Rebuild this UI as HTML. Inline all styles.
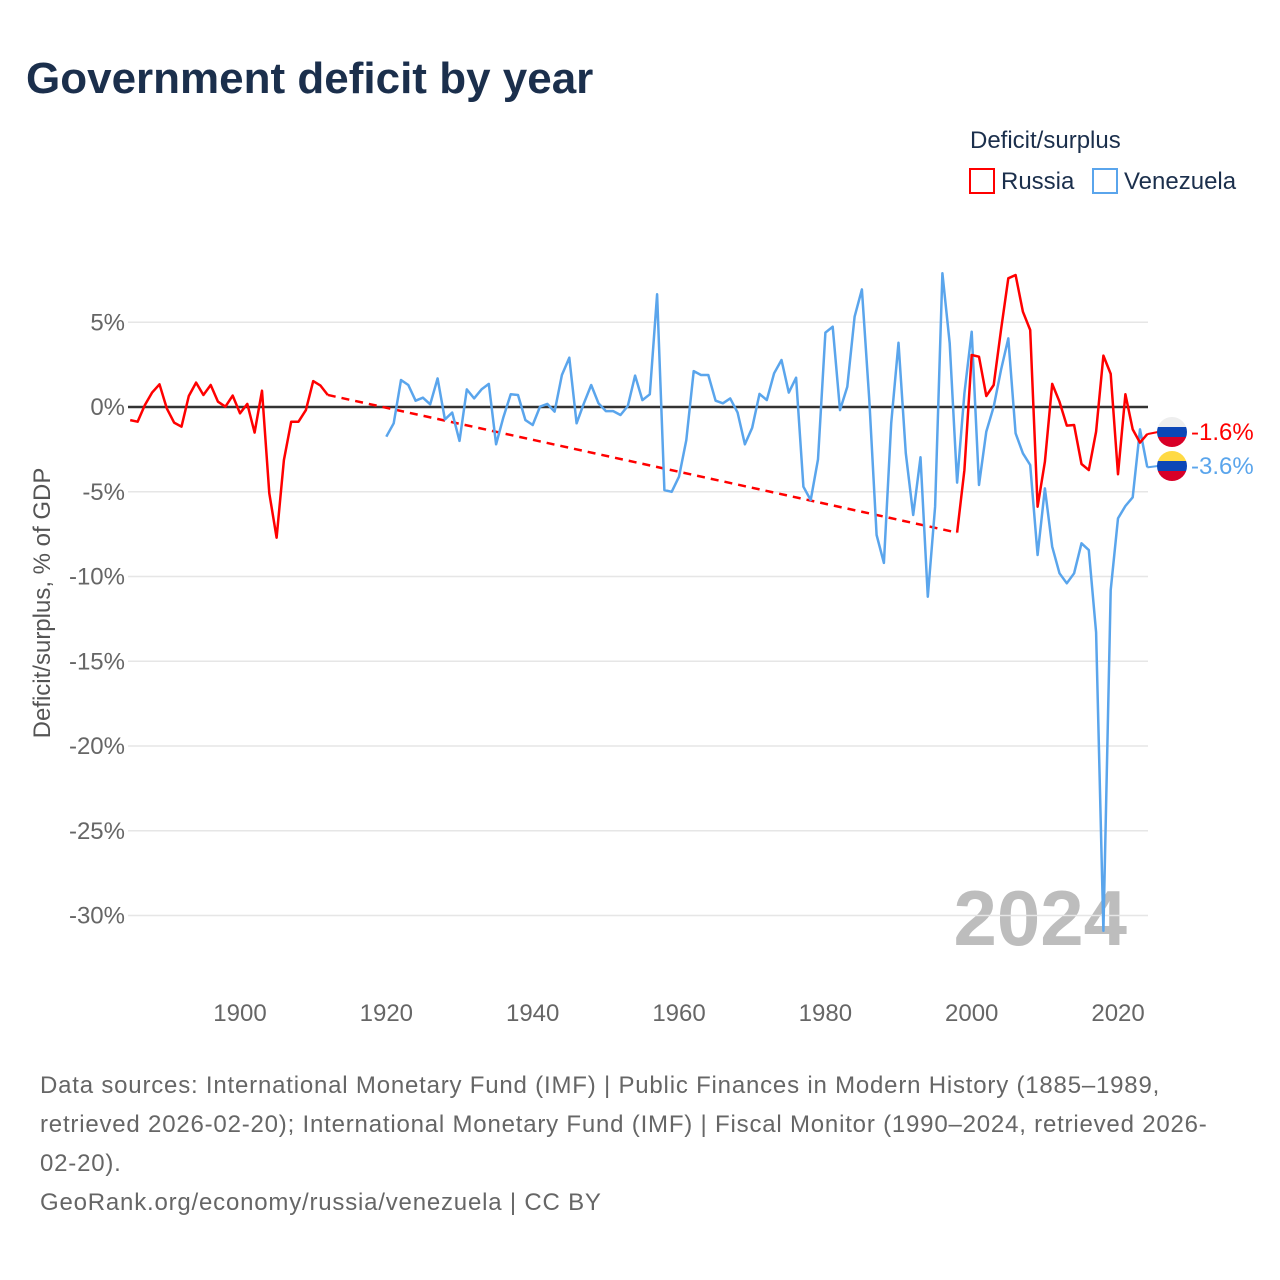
<!DOCTYPE html>
<html><head><meta charset="utf-8">
<style>
body{margin:0;width:1280px;height:1280px;background:#fff;font-family:"Liberation Sans",sans-serif;overflow:hidden}
svg{position:absolute;left:0;top:0}
</style></head>
<body>
<svg id="c" width="1280" height="1280">
<text x="26" y="93" font-size="44" font-weight="bold" fill="#1b2f4c">Government deficit by year</text>
<text x="970" y="148" font-size="24" fill="#1b2f4c">Deficit/surplus</text>
<g><rect x="970" y="169" width="24" height="24" fill="none" stroke="#ff0000" stroke-width="2"/><text x="1001" y="189" font-size="24" fill="#1b2f4c">Russia</text></g>
<g><rect x="1093" y="169" width="24" height="24" fill="none" stroke="#5aa5ec" stroke-width="2"/><text x="1124" y="189" font-size="24" fill="#1b2f4c">Venezuela</text></g>
<text transform="translate(50,603) rotate(-90)" text-anchor="middle" font-size="24" fill="#555">Deficit/surplus, % of GDP</text>
<text x="1127" y="945" text-anchor="end" font-size="78" font-weight="bold" fill="#bdbdbd">2024</text>
<g id="grid"></g><g id="lines"></g><g id="labels"></g>
<g font-size="24" fill="#666" letter-spacing="0.8">
<text x="40" y="1093">Data sources: International Monetary Fund (IMF) | Public Finances in Modern History (1885–1989,</text>
<text x="40" y="1132">retrieved 2026-02-20); International Monetary Fund (IMF) | Fiscal Monitor (1990–2024, retrieved 2026-</text>
<text x="40" y="1171">02-20).</text>
<text x="40" y="1210">GeoRank.org/economy/russia/venezuela | CC BY</text>
</g>
</svg>
<script>
const yTicks=[5,0,-5,-10,-15,-20,-25,-30];
const xTicks=[1900,1920,1940,1960,1980,2000,2020];
const russiaEarlyStart=1885;
const russiaEarly=[-0.77,-0.87,0.12,0.86,1.34,-0.08,-0.92,-1.16,0.65,1.44,0.71,1.3,0.31,0.02,0.67,-0.37,0.18,-1.51,0.96,-5.09,-7.71,-3.13,-0.87,-0.87,-0.18,1.53,1.26,0.71];
const russiaLateStart=1998;
const russiaLate=[-7.41,-3.72,3.07,2.97,0.65,1.3,4.54,7.59,7.79,5.62,4.54,-5.88,-3.23,1.36,0.31,-1.1,-1.06,-3.36,-3.72,-1.45,3.03,1.95,-3.97,0.75,-1.32,-2.1,-1.6];
const venStart=1920;
const venezuela=[-1.75,-0.96,1.59,1.3,0.37,0.55,0.16,1.69,-0.73,-0.33,-2.0,1.04,0.51,1.04,1.36,-2.2,-0.6,0.75,0.71,-0.77,-1.06,0.02,0.18,-0.27,1.89,2.91,-0.96,0.22,1.3,0.22,-0.24,-0.24,-0.47,0.06,1.85,0.41,0.75,6.65,-4.9,-5.0,-4.11,-1.95,2.12,1.89,1.89,0.37,0.22,0.51,-0.33,-2.2,-1.22,0.77,0.41,1.99,2.77,0.85,1.73,-4.7,-5.49,-3.09,4.39,4.74,-0.18,1.2,5.33,6.94,0.41,-7.55,-9.2,-0.96,3.79,-2.73,-6.37,-2.97,-11.19,-5.88,7.89,3.76,-4.46,0.8,4.44,-4.6,-1.45,0.02,2.18,4.05,-1.55,-2.73,-3.42,-8.73,-4.8,-8.24,-9.81,-10.4,-9.81,-8.04,-8.44,-13.3,-30.9,-10.8,-6.57,-5.84,-5.33,-1.32,-3.56];
const NS="http://www.w3.org/2000/svg";
const X=y=>240+(y-1900)*7.317;
const Y=v=>407-v*16.95;
function mk(t,a,p){const e=document.createElementNS(NS,t);for(const k in a)e.setAttribute(k,a[k]);p.appendChild(e);return e;}
const grid=document.getElementById('grid'),lines=document.getElementById('lines'),labels=document.getElementById('labels');
yTicks.forEach(v=>{
 const l=mk('line',{x1:128,x2:1148,y1:Y(v),y2:Y(v),stroke:'#e6e6e6','stroke-width':1.5},grid);
 
 
 const t=mk('text',{x:125,y:Y(v)+8,'text-anchor':'end','font-size':24,fill:'#666'},grid);
 t.textContent=v+'%';
 
 
});
xTicks.forEach(y=>{
 const t=mk('text',{x:X(y),y:1021,'text-anchor':'middle','font-size':24,fill:'#666'},grid);
 t.textContent=y;
 
 
});
const z=mk('line',{x1:128,x2:1148,y1:Y(0),y2:Y(0),stroke:'#333','stroke-width':2.5},grid);


function pts(arr,s){return arr.map((v,i)=>X(s+i).toFixed(1)+','+Y(v).toFixed(1)).join(' ');}
const r1=mk('polyline',{points:pts(russiaEarly,russiaEarlyStart),fill:'none',stroke:'#ff0000','stroke-width':2.5,'stroke-linejoin':'round'},lines);


const lastE=russiaEarly.length-1+russiaEarlyStart;
const gap=mk('line',{x1:X(lastE),y1:Y(russiaEarly[russiaEarly.length-1]),x2:X(russiaLateStart),y2:Y(russiaLate[0]),stroke:'#ff0000','stroke-width':2.5,'stroke-dasharray':'8,6'},lines);


const v1=mk('polyline',{points:pts(venezuela,venStart),fill:'none',stroke:'#5aa5ec','stroke-width':2.5,'stroke-linejoin':'round'},lines);


const r2=mk('polyline',{points:pts(russiaLate,russiaLateStart),fill:'none',stroke:'#ff0000','stroke-width':2.5,'stroke-linejoin':'round'},lines);


const rv=russiaLate[russiaLate.length-1],vv=venezuela[venezuela.length-1];
const lx=X(2024);
mk('line',{x1:lx,y1:Y(rv),x2:1158,y2:432,stroke:'#ff0000','stroke-width':2},labels);
mk('line',{x1:lx,y1:Y(vv),x2:1158,y2:466,stroke:'#5aa5ec','stroke-width':2},labels);
function flag(cy,cols,name){
 const g=mk('g',{},labels);
 
 
 const cp=mk('clipPath',{id:name+'c'},g);mk('circle',{cx:1172,cy:cy,r:15},cp);
 cols.forEach((c,i)=>mk('rect',{x:1157,y:cy-15+i*10,width:30,height:10,fill:c,'clip-path':'url(#'+name+'c)'},g));
}
flag(432,['#eeeeee','#0c47b7','#d80027'],'russia-flag');
flag(466,['#ffda44','#0c47b7','#d80027'],'venezuela-flag');
const tr=mk('text',{x:1191,y:440,'font-size':24,fill:'#ff0000'},labels);
tr.textContent=rv.toFixed(1)+'%';


const tv=mk('text',{x:1191,y:474,'font-size':24,fill:'#5aa5ec'},labels);
tv.textContent=vv.toFixed(1)+'%';


</script>
</body></html>
